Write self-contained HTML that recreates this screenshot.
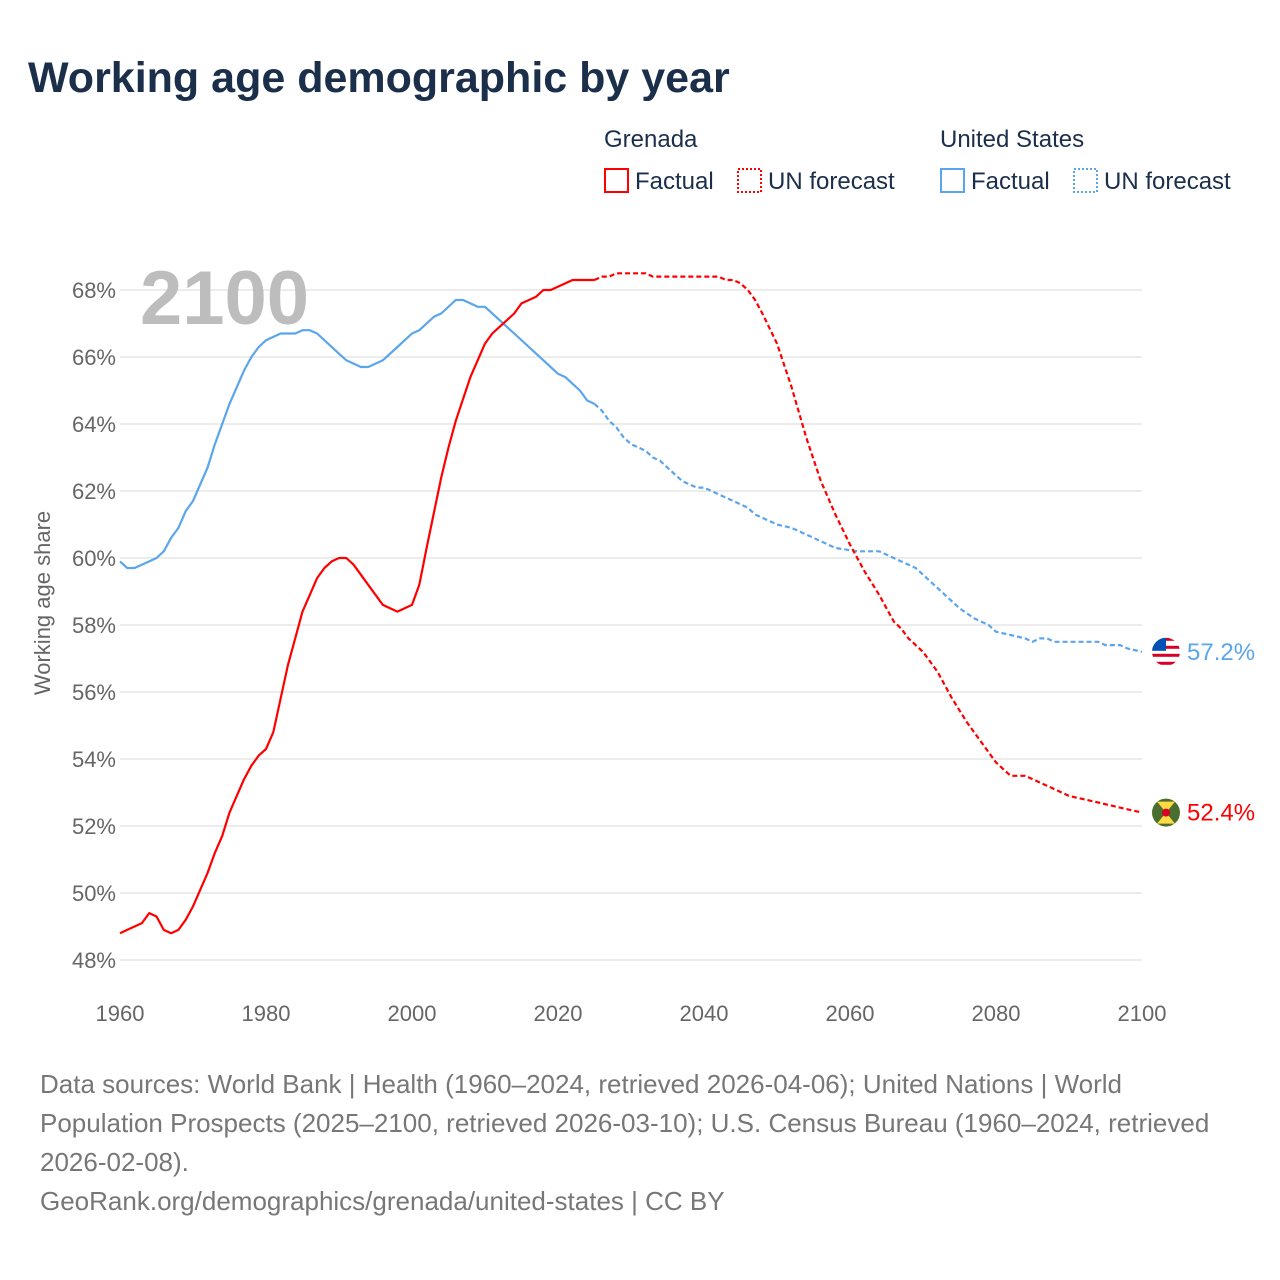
<!DOCTYPE html>
<html><head><meta charset="utf-8"><style>
body{margin:0;background:#fff;font-family:"Liberation Sans",sans-serif}
#wrap{position:relative;width:1280px;height:1280px;overflow:hidden}
</style></head><body>
<div id="wrap">
<svg id="c" width="1280" height="1280" xmlns="http://www.w3.org/2000/svg"></svg>
</div>
<script>
const grenadaYears=[1960,1963,1964,1965,1966,1967,1968,1969,1970,1972,1973,1974,1975,1977,1978,1979,1980,1981,1983,1985,1986,1987,1988,1989,1990,1991,1992,1994,1996,1998,2000,2001,2002,2004,2005,2006,2008,2010,2011,2012,2013,2014,2015,2017,2018,2019,2022,2025,2026,2027,2028,2032,2033,2042,2043,2044,2045,2046,2047,2048,2050,2052,2054,2056,2058,2060,2062,2064,2066,2067,2068,2070,2072,2074,2076,2078,2080,2082,2084,2086,2088,2090,2092,2094,2096,2098,2100];
const grenadaValues=[48.8,49.1,49.4,49.3,48.9,48.8,48.9,49.2,49.6,50.6,51.2,51.7,52.4,53.4,53.8,54.1,54.3,54.8,56.8,58.4,58.9,59.4,59.7,59.9,60.0,60.0,59.8,59.2,58.6,58.4,58.6,59.2,60.3,62.4,63.3,64.1,65.4,66.4,66.7,66.9,67.1,67.3,67.6,67.8,68.0,68.0,68.3,68.3,68.4,68.4,68.5,68.5,68.4,68.4,68.3,68.3,68.2,68.0,67.7,67.3,66.4,65.1,63.6,62.3,61.3,60.4,59.6,58.9,58.1,57.9,57.6,57.2,56.6,55.8,55.1,54.5,53.9,53.5,53.5,53.3,53.1,52.9,52.8,52.7,52.6,52.5,52.4];
const usYears=[1960,1961,1962,1964,1965,1966,1967,1968,1969,1970,1972,1973,1975,1977,1978,1979,1980,1982,1984,1985,1986,1987,1990,1991,1993,1994,1996,1998,2000,2001,2003,2004,2006,2007,2009,2010,2014,2018,2020,2021,2023,2024,2025,2026,2027,2028,2029,2030,2032,2033,2034,2036,2037,2039,2040,2044,2046,2047,2050,2052,2054,2057,2058,2061,2064,2066,2069,2072,2075,2077,2079,2080,2082,2084,2085,2086,2087,2088,2094,2095,2097,2098,2100];
const usValues=[59.9,59.7,59.7,59.9,60.0,60.2,60.6,60.9,61.4,61.7,62.7,63.4,64.6,65.6,66.0,66.3,66.5,66.7,66.7,66.8,66.8,66.7,66.1,65.9,65.7,65.7,65.9,66.3,66.7,66.8,67.2,67.3,67.7,67.7,67.5,67.5,66.7,65.9,65.5,65.4,65.0,64.7,64.6,64.4,64.1,63.9,63.6,63.4,63.2,63.0,62.9,62.5,62.3,62.1,62.1,61.7,61.5,61.3,61.0,60.9,60.7,60.4,60.3,60.2,60.2,60.0,59.7,59.1,58.5,58.2,58.0,57.8,57.7,57.6,57.5,57.6,57.6,57.5,57.5,57.4,57.4,57.3,57.2];
const yTicks=[48,50,52,54,56,58,60,62,64,66,68];
const xTicks=[1960,1980,2000,2020,2040,2060,2080,2100];
const forecastStart=2025;

const NS="http://www.w3.org/2000/svg";
const svg=document.getElementById('c');
const X0=120,X1=1142,Y0=960,Y1=290;
const xs=y=>X0+(y-1960)/(2100-1960)*(X1-X0);
const ys=v=>Y0-(v-48)/(68-48)*(Y0-Y1);
function mk(tag,attrs,text){const e=document.createElementNS(NS,tag);for(const k in attrs)e.setAttribute(k,attrs[k]);if(text!=null)e.textContent=text;svg.appendChild(e);return e;}

let t=mk('text',{x:28,y:92,'font-size':43,'font-weight':'bold',fill:'#1b2f4b'},'Working age demographic by year');



function legendGroup(x,name,color){
  let h=mk('text',{x:x,y:147,'font-size':24,fill:'#1b2f4b'},name);
  
  
  let r=mk('rect',{x:x+1,y:169,width:23,height:23,fill:'none',stroke:color,'stroke-width':2});
  
  
  let a=mk('text',{x:x+31,y:189,'font-size':24,fill:'#1b2f4b'},'Factual');
  
  
  let r2=mk('rect',{x:x+134,y:169,width:23,height:23,fill:'none',stroke:color,'stroke-width':2,'stroke-dasharray':'2,2'});
  
  
  let b=mk('text',{x:x+164,y:189,'font-size':24,fill:'#1b2f4b'},'UN forecast');
  
  
}
legendGroup(604,'Grenada','#ff0000');
legendGroup(940,'United States','#5ba5ec');

yTicks.forEach(v=>{
  let l=mk('line',{x1:X0,x2:X1,y1:ys(v),y2:ys(v),stroke:'#e6e6e6','stroke-width':1.5});
  
  
  let tx=mk('text',{x:116,y:ys(v)+8,'font-size':22,fill:'#666','text-anchor':'end'},v+'%');
  
  
});
xTicks.forEach(y=>{
  let tx=mk('text',{x:xs(y),y:1021,'font-size':22,fill:'#666','text-anchor':'middle'},String(y));
  
  
});
let yt=mk('text',{x:0,y:0,'font-size':22,fill:'#666','text-anchor':'middle',transform:'translate(50,603) rotate(-90)'},'Working age share');



let yr=mk('text',{x:140,y:324,'font-size':76,'font-weight':'bold',fill:'#bdbdbd'},'2100');



function series(years,vals,color,name){
  let f='',p='';
  years.forEach((y,i)=>{const pt=xs(y).toFixed(1)+','+ys(vals[i]).toFixed(1);
    if(y<=forecastStart) f+=(f?'L':'M')+pt;
    if(y>=forecastStart) p+=(p?'L':'M')+pt;});
  let a=mk('path',{d:f,fill:'none',stroke:color,'stroke-width':2.2,'stroke-linejoin':'round'});
  
  
  let b=mk('path',{d:p,fill:'none',stroke:color,'stroke-width':2.2,'stroke-dasharray':'5,3'});
  
  
}
series(usYears,usValues,'#5ba5ec','us');
series(grenadaYears,grenadaValues,'#ff0000','grenada');

function endLabel(vals,color,name,flag){
  const v=vals[vals.length-1], y=ys(v);
  let g=document.createElementNS(NS,'g');svg.appendChild(g);
  
  
  g.innerHTML=flag(1166,y);
  let tx=mk('text',{x:1187,y:y+8,'font-size':24,fill:color},v.toFixed(1)+'%');
  
  
}
endLabel(usValues,'#5ba5ec','us',(cx,cy)=>`<clipPath id="cu"><circle cx="${cx}" cy="${cy}" r="14"/></clipPath><g clip-path="url(#cu)"><rect x="${cx-14}" y="${cy-14}" width="28" height="28" fill="#fff"/>${[0,2,4,6].map(i=>`<rect x="${cx-14}" y="${cy-14+i*4}" width="28" height="3" fill="#d80027"/>`).join('')}<rect x="${cx-14}" y="${cy-14}" width="14" height="13" fill="#0052b4"/></g>`);
endLabel(grenadaValues,'#ff0000','grenada',(cx,cy)=>`<circle cx="${cx}" cy="${cy}" r="14" fill="#496e2d"/><polygon points="${cx-9},${cy-11} ${cx+9},${cy-11} ${cx},${cy}" fill="#ffda44"/><polygon points="${cx-9},${cy+11} ${cx+9},${cy+11} ${cx},${cy}" fill="#ffda44"/><circle cx="${cx}" cy="${cy}" r="4" fill="#d80027"/>`);

const foot=['Data sources: World Bank | Health (1960–2024, retrieved 2026-04-06); United Nations | World','Population Prospects (2025–2100, retrieved 2026-03-10); U.S. Census Bureau (1960–2024, retrieved','2026-02-08).','GeoRank.org/demographics/grenada/united-states | CC BY'];
foot.forEach((s,i)=>{
  let tx=mk('text',{x:40,y:1093+i*39,'font-size':26,fill:'#777'},s);
  
  
});
</script>
</body></html>
